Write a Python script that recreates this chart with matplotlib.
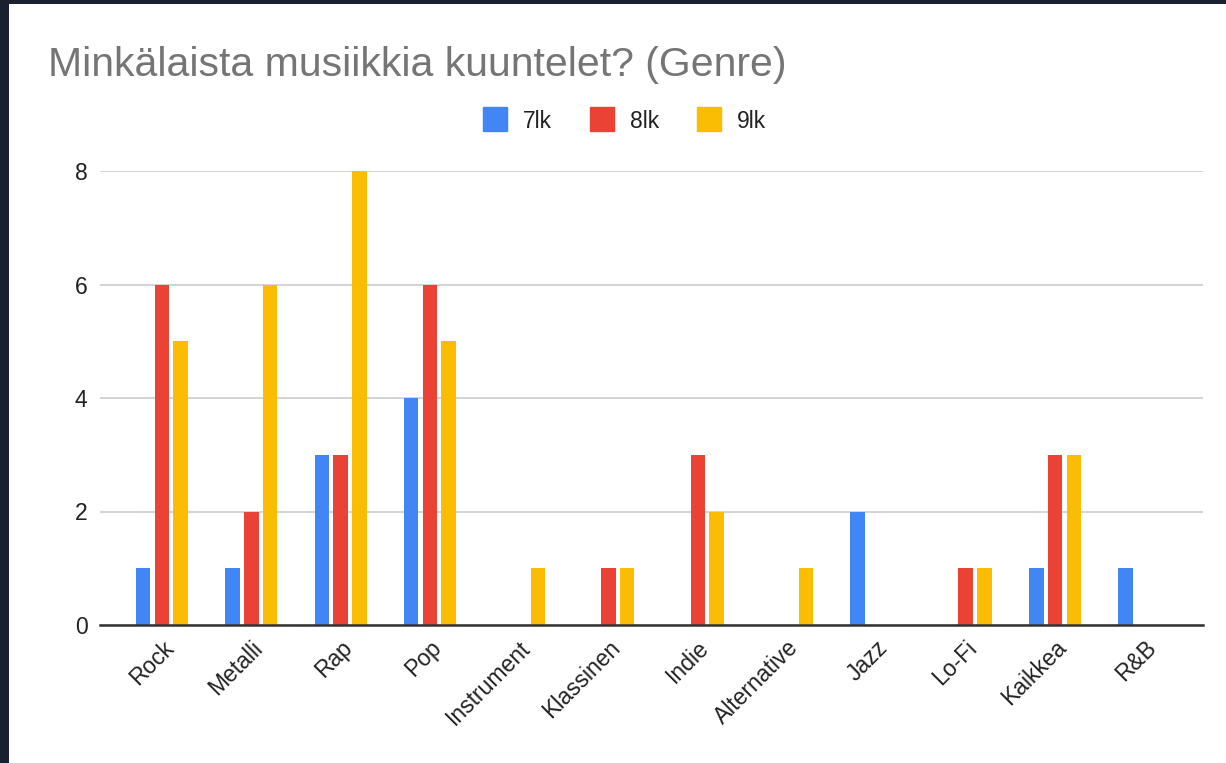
import matplotlib.pyplot as plt
import matplotlib.transforms as mtransforms
import numpy as np
from matplotlib.patches import Rectangle
from matplotlib.lines import Line2D

plt.rcParams['font.family'] = ['Liberation Sans', 'DejaVu Sans']

genres = ['Rock', 'Metalli', 'Rap', 'Pop', 'Instrument', 'Klassinen', 'Indie',
          'Alternative', 'Jazz', 'Lo-Fi', 'Kaikkea', 'R&B']
lk7 = [1, 1, 3, 4, 0, 0, 0, 0, 2, 0, 1, 1]
lk8 = [6, 2, 3, 6, 0, 1, 3, 0, 0, 1, 3, 0]
lk9 = [5, 6, 8, 5, 1, 1, 2, 1, 0, 1, 3, 0]
series = ['7lk', '8lk', '9lk']
colors = ['#4285F4', '#EA4335', '#FBBC04']

W, H = 1226, 763
fig = plt.figure(figsize=(W / 100, H / 100), dpi=100)
fig.patch.set_facecolor('white')

# dark screenshot border
dark = '#1b2030'
fig.patches.append(Rectangle((0, 1 - 4 / H), 1, 4 / H, transform=fig.transFigure,
                             facecolor=dark, edgecolor='none', zorder=0))
fig.patches.append(Rectangle((0, 0), 9 / W, 1, transform=fig.transFigure,
                             facecolor=dark, edgecolor='none', zorder=0))

ax = fig.add_axes([100 / W, 1 - 625 / H, 1103 / W, 454 / H])
x = np.arange(len(genres))
w = 0.162
step = 0.21
for i, (vals, c) in enumerate(zip([lk7, lk8, lk9], colors)):
    ax.bar(x + (i - 1) * step, vals, width=w, color=c, zorder=3)

ax.set_xlim(-0.694, 11.657)
ax.set_ylim(0, 8)
ax.set_yticks([0, 2, 4, 6, 8])
ax.grid(axis='y', color='#cccccc', linewidth=1.2, zorder=0)
for s in ['top', 'right', 'left']:
    ax.spines[s].set_visible(False)
ax.spines['bottom'].set_color('#333333')
ax.spines['bottom'].set_linewidth(1.8)
ax.spines['bottom'].set_zorder(4)
ax.tick_params(axis='both', length=0, labelsize=16.5, colors='#222222')
ax.tick_params(axis='y', pad=9)
ax.set_xticks(x)
ax.set_xticklabels(genres, rotation=45, ha='right', va='center',
                   rotation_mode='anchor')
ax.tick_params(axis='x', pad=14)
shift = mtransforms.ScaledTranslation(8 / 100, 0, fig.dpi_scale_trans)
for lab in ax.get_xticklabels():
    lab.set_transform(lab.get_transform() + shift)

fig.text(48 / W, 1 - 65 / H, 'Minkälaista musiikkia kuuntelet? (Genre)',
         fontsize=29.5, color='#757575', va='center', ha='left')

handles = [Line2D([], [], marker='s', linestyle='none', markersize=17,
                  markerfacecolor=c, markeredgecolor=c) for c in colors]
fig.legend(handles, series, loc='center', bbox_to_anchor=(625 / W, 1 - 121 / H),
           ncol=3, frameon=False, fontsize=16.5, handlelength=1.0,
           handletextpad=0.7, columnspacing=1.7, labelcolor='#222222')

fig.savefig('out.png', dpi=100)
